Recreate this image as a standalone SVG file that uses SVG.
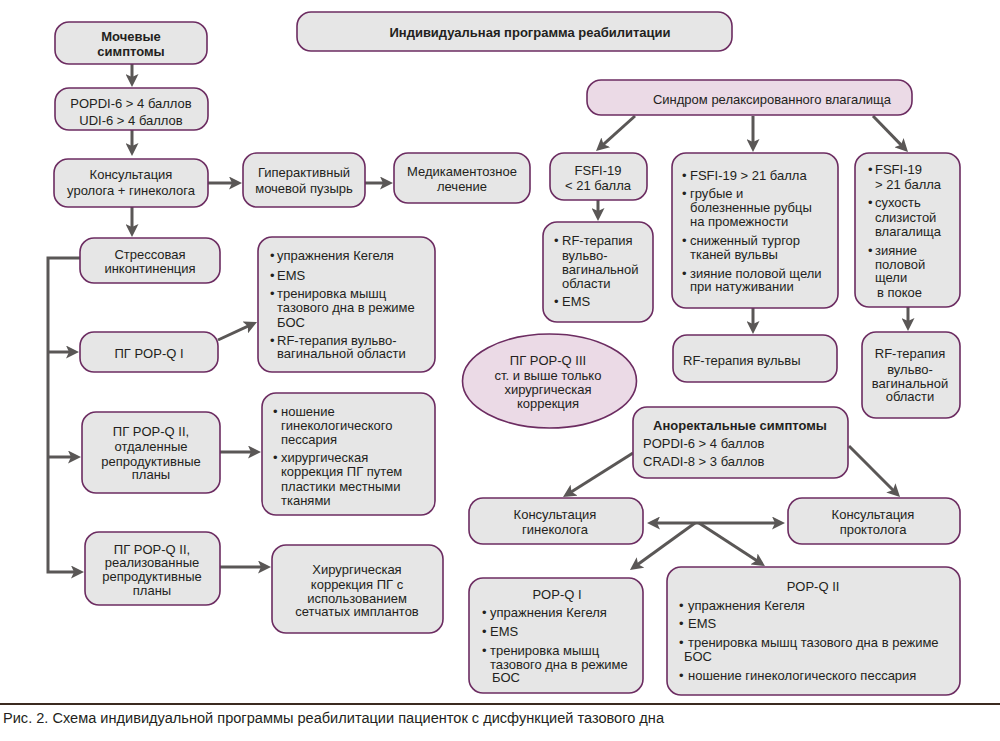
<svg xmlns="http://www.w3.org/2000/svg" width="1000" height="741" viewBox="0 0 1000 741">
<style>
.box{fill:#e6e6e6;stroke:#6c2c61;stroke-width:1.6}
.pink{fill:#ebdae6}
text{font-family:"Liberation Sans",Arial,sans-serif;font-size:13px;fill:#231f20}
.c{text-anchor:middle}
.b{font-weight:bold}
.cn{stroke:#5a5756;stroke-width:3;fill:none;marker-end:url(#ah)}
.cn2{stroke:#5a5756;stroke-width:3;fill:none;marker-end:url(#ah);marker-start:url(#ah)}
</style>
<defs>
<marker id="ah" viewBox="0 0 13 13" refX="9" refY="6.5" markerWidth="13" markerHeight="13" markerUnits="userSpaceOnUse" orient="auto-start-reverse">
<path d="M0,0 L13,6.5 L0,13 L3,6.5 z" fill="#5a5756"/>
</marker>
</defs>
<rect width="1000" height="741" fill="#ffffff"/>

<g id="connectors">
<line class="cn" x1="132" y1="64" x2="132" y2="83"/>
<line class="cn" x1="132" y1="130" x2="132" y2="152"/>
<line class="cn" x1="132" y1="207" x2="132" y2="233"/>
<line class="cn" x1="208" y1="183" x2="238" y2="183"/>
<line class="cn" x1="365" y1="183" x2="389" y2="183"/>
<path class="cn" d="M80,258 H48 V572 H80"/>
<line class="cn" x1="48" y1="352" x2="75" y2="352"/>
<line class="cn" x1="48" y1="457" x2="77" y2="457"/>
<line class="cn" x1="218" y1="340" x2="253.4" y2="323.7"/>
<line class="cn" x1="220" y1="452" x2="257" y2="452"/>
<line class="cn" x1="220" y1="567" x2="267" y2="567"/>
<line class="cn" x1="635" y1="116" x2="599" y2="148.3"/>
<line class="cn" x1="753" y1="116" x2="753" y2="148"/>
<line class="cn" x1="873" y1="116" x2="905.2" y2="149.1"/>
<line class="cn" x1="598" y1="200" x2="598" y2="217"/>
<line class="cn" x1="753" y1="308" x2="753" y2="330"/>
<line class="cn" x1="908" y1="307" x2="908" y2="327"/>
<line class="cn" x1="633" y1="453" x2="566.4" y2="494.9"/>
<line class="cn" x1="849" y1="446" x2="897.2" y2="494.2"/>
<line class="cn2" x1="651" y1="523" x2="781" y2="523"/>
<line class="cn" x1="695" y1="523" x2="633.2" y2="567.7"/>
<line class="cn" x1="699" y1="523" x2="761.6" y2="563.8"/>
</g>

<g id="title">
<rect class="box" x="297" y="12" width="435" height="39" rx="14"/>
<text class="c b" x="530" y="37">Индивидуальная программа реабилитации</text>
</g>

<g id="n-urinary">
<rect class="box" x="55" y="22" width="152" height="42" rx="14"/>
<text class="c b" x="131" y="41">Мочевые</text>
<text class="c b" x="131" y="56">симптомы</text>
</g>

<g id="n-popdi">
<rect class="box" x="55" y="88" width="153" height="42" rx="14"/>
<text class="c" x="131" y="108">POPDI-6 &gt; 4 баллов</text>
<text class="c" x="131" y="125">UDI-6 &gt; 4 баллов</text>
</g>

<g id="n-consult">
<rect class="box" x="54" y="159" width="154" height="48" rx="14"/>
<text class="c" x="131" y="179">Консультация</text>
<text class="c" x="131" y="194.5">уролога + гинеколога</text>
</g>

<g id="n-hyper">
<rect class="box" x="243" y="153" width="122" height="54" rx="14"/>
<text class="c" x="304" y="177">Гиперактивный</text>
<text class="c" x="304" y="193">мочевой пузырь</text>
</g>

<g id="n-med">
<rect class="box" x="394" y="153" width="136" height="50" rx="14"/>
<text class="c" x="462" y="176">Медикаментозное</text>
<text class="c" x="462" y="191">лечение</text>
</g>

<g id="n-stress">
<rect class="box" x="80" y="238" width="140" height="45" rx="14"/>
<text class="c" x="150" y="258.5">Стрессовая</text>
<text class="c" x="150" y="272.5">инконтиненция</text>
</g>

<g id="n-popq1">
<rect class="box" x="80" y="332" width="138" height="40" rx="14"/>
<text class="c" x="149" y="357.5">ПГ POP-Q I</text>
</g>

<g id="n-list1">
<rect class="box" x="258" y="237" width="177" height="135" rx="14"/>
<text x="270" y="260">•</text><text x="277" y="260">упражнения Кегеля</text>
<text x="270" y="279.5">•</text><text x="277" y="279.5">EMS</text>
<text x="270" y="297.5">•</text><text x="277" y="297.5">тренировка мышц</text>
<text x="277" y="311.5">тазового дна в режиме</text>
<text x="277" y="326.5">БОС</text>
<text x="270" y="344.5">•</text><text x="277" y="344.5">RF-терапия вульво-</text>
<text x="277" y="357.5">вагинальной области</text>
</g>

<g id="n-popq2a">
<rect class="box" x="82" y="412" width="138" height="81" rx="14"/>
<text class="c" x="151" y="436">ПГ POP-Q II,</text>
<text class="c" x="151" y="450.5">отдаленные</text>
<text class="c" x="151" y="465.5">репродуктивные</text>
<text class="c" x="151" y="478.5">планы</text>
</g>

<g id="n-list2">
<rect class="box" x="262" y="393" width="173" height="122" rx="14"/>
<text x="273" y="416">•</text><text x="281" y="416">ношение</text>
<text x="281" y="429.5">гинекологического</text>
<text x="281" y="443.5">пессария</text>
<text x="273" y="462">•</text><text x="281" y="462">хирургическая</text>
<text x="281" y="476">коррекция ПГ путем</text>
<text x="281" y="491">пластики местными</text>
<text x="281" y="504.5">тканями</text>
</g>

<g id="n-popq2b">
<rect class="box" x="85" y="532" width="135" height="73" rx="14"/>
<text class="c" x="152" y="553.5">ПГ POP-Q II,</text>
<text class="c" x="152" y="566.5">реализованные</text>
<text class="c" x="152" y="581">репродуктивные</text>
<text class="c" x="152" y="595">планы</text>
</g>

<g id="n-surgery">
<rect class="box" x="272" y="545" width="171" height="88" rx="14"/>
<text class="c" x="357" y="573.5">Хирургическая</text>
<text class="c" x="357" y="588.5">коррекция ПГ с</text>
<text class="c" x="357" y="602.5">использованием</text>
<text class="c" x="357" y="616">сетчатых имплантов</text>
</g>

<g id="n-syndrome">
<rect class="box pink" x="587" y="80" width="325" height="35" rx="14"/>
<text class="c" x="772" y="104">Синдром релаксированного влагалища</text>
</g>

<g id="n-fsfi-low">
<rect class="box" x="550" y="153" width="97" height="47" rx="14"/>
<text class="c" x="598" y="174.5">FSFI-19</text>
<text class="c" x="598" y="189.5">&lt; 21 балла</text>
</g>

<g id="n-rf-left">
<rect class="box" x="543" y="222" width="110" height="100" rx="14"/>
<text x="554" y="245">•</text><text x="562" y="245">RF-терапия</text>
<text x="562" y="259.5">вульво-</text>
<text x="562" y="274">вагинальной</text>
<text x="562" y="288">области</text>
<text x="554" y="306">•</text><text x="562" y="306">EMS</text>
</g>

<g id="n-fsfi-mid">
<rect class="box" x="672" y="153" width="166" height="155" rx="14"/>
<text x="682" y="179.5">•</text><text x="690" y="179.5">FSFI-19 &gt; 21 балла</text>
<text x="682" y="198">•</text><text x="690" y="198">грубые и</text>
<text x="690" y="212">болезненные рубцы</text>
<text x="690" y="226">на промежности</text>
<text x="682" y="245">•</text><text x="690" y="245">сниженный тургор</text>
<text x="690" y="259">тканей вульвы</text>
<text x="682" y="278">•</text><text x="690" y="278">зияние половой щели</text>
<text x="690" y="291">при натуживании</text>
</g>

<g id="n-rf-vulva">
<rect class="box" x="673" y="335" width="164" height="47" rx="14"/>
<text x="683" y="364.5">RF-терапия вульвы</text>
</g>

<g id="n-fsfi-right">
<rect class="box" x="855" y="153" width="105" height="154" rx="14"/>
<text x="868" y="174">•</text><text x="875" y="174">FSFI-19</text>
<text x="875" y="188.5">&gt; 21 балла</text>
<text x="868" y="207">•</text><text x="875" y="207">сухость</text>
<text x="875" y="222">слизистой</text>
<text x="875" y="235.5">влагалища</text>
<text x="868" y="254.5">•</text><text x="875" y="254.5">зияние</text>
<text x="875" y="268.5">половой</text>
<text x="875" y="282">щели</text>
<text x="877" y="297">в покое</text>
</g>

<g id="n-rf-right">
<rect class="box" x="862" y="332" width="98" height="86" rx="14"/>
<text class="c" x="910" y="358">RF-терапия</text>
<text class="c" x="910" y="374">вульво-</text>
<text class="c" x="910" y="388">вагинальной</text>
<text class="c" x="910" y="401">области</text>
</g>

<g id="n-popq3">
<ellipse class="box pink" cx="549.5" cy="381" rx="87" ry="47"/>
<text class="c" x="548" y="365">ПГ POP-Q III</text>
<text class="c" x="548" y="379.5">ст. и выше только</text>
<text class="c" x="548" y="394">хирургическая</text>
<text class="c" x="548" y="408">коррекция</text>
</g>

<g id="n-anorectal">
<rect class="box" x="633" y="407" width="215" height="71" rx="14"/>
<text class="c b" x="740" y="429.5">Аноректальные симптомы</text>
<text x="643" y="448">POPDI-6 &gt; 4 баллов</text>
<text x="643" y="466">CRADI-8 &gt; 3 баллов</text>
</g>

<g id="n-gyn">
<rect class="box" x="469" y="498" width="174" height="46" rx="14"/>
<text class="c" x="555" y="519">Консультация</text>
<text class="c" x="555" y="534">гинеколога</text>
</g>

<g id="n-proct">
<rect class="box" x="788" y="498" width="172" height="46" rx="14"/>
<text class="c" x="873" y="519">Консультация</text>
<text class="c" x="873" y="534">проктолога</text>
</g>

<g id="n-popq1-b">
<rect class="box" x="469" y="578" width="174" height="115" rx="14"/>
<text class="c" x="557" y="598.5">POP-Q I</text>
<text x="482" y="617">•</text><text x="490" y="617">упражнения Кегеля</text>
<text x="482" y="635.5">•</text><text x="490" y="635.5">EMS</text>
<text x="482" y="654.5">•</text><text x="490" y="654.5">тренировка мышц</text>
<text x="490" y="668.5">тазового дна в режиме</text>
<text x="492" y="682">БОС</text>
</g>

<g id="n-popq2-b">
<rect class="box" x="667" y="567" width="293" height="128" rx="14"/>
<text class="c" x="813" y="591">POP-Q II</text>
<text x="679" y="609.5">•</text><text x="688" y="609.5">упражнения Кегеля</text>
<text x="679" y="628">•</text><text x="688" y="628">EMS</text>
<text x="679" y="647">•</text><text x="688" y="647">тренировка мышц тазового дна в режиме</text>
<text x="684" y="660.5">БОС</text>
<text x="679" y="679.5">•</text><text x="688" y="679.5">ношение гинекологического пессария</text>
</g>

<g id="caption">
<line x1="0" y1="704" x2="1000" y2="704" stroke="#3b2a20" stroke-width="2"/>
<text x="3" y="723" style="font-size:14px" textLength="661" lengthAdjust="spacingAndGlyphs">Рис. 2. Схема индивидуальной программы реабилитации пациенток с дисфункцией тазового дна</text>
</g>
</svg>
